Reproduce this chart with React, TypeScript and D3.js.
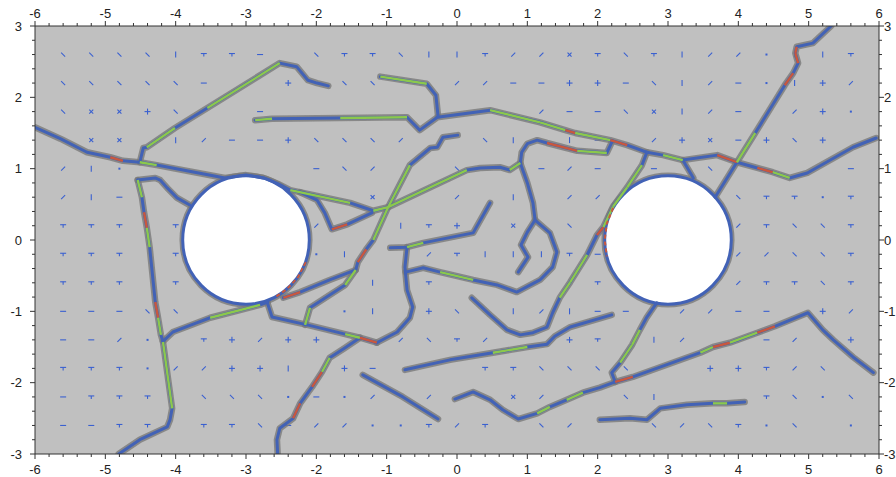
import React from "react";
import * as d3 from "d3";

type P = [number, number];

// axis labels
const xTicks = [-6, -5, -4, -3, -2, -1, 0, 1, 2, 3, 4, 5, 6];
const yTicks = [-3, -2, -1, 0, 1, 2, 3];

// the two holes
const holeCenters: P[] = [[-3, 0], [3, 0]];
const holeRadius = 0.9;

// fracture traces, each with a per-segment state code (b = closed, g = open, r = sheared)
const fA: P[] = [[-6.0, 1.58], [-5.64, 1.42], [-5.26, 1.23], [-4.93, 1.16], [-4.75, 1.11], [-4.51, 1.09], [-4.27, 1.05], [-3.3, 0.87], [-3.0, 0.91], [-2.75, 0.87], [-2.55, 0.79], [-2.37, 0.7], [-1.52, 0.52], [-1.19, 0.41], [-0.98, 0.46], [0.14, 0.98], [0.33, 1.01], [0.61, 1.02], [0.75, 0.98], [0.9, 1.08], [0.92, 1.23], [1.0, 1.35], [1.14, 1.4], [1.28, 1.36], [1.71, 1.25], [2.13, 1.22], [2.2, 1.37]];
const fB: P[] = [[-4.51, 1.09], [-4.46, 1.29], [-4.41, 1.3], [-4.01, 1.57], [-3.55, 1.85], [-2.52, 2.48], [-2.28, 2.43], [-2.12, 2.24], [-1.99, 2.2], [-1.83, 2.16]];
const fC: P[] = [[-4.54, 0.84], [-4.29, 0.87], [-4.22, 0.84], [-4.12, 0.73], [-3.98, 0.59], [-3.8, 0.49]];
const fD: P[] = [[-4.54, 0.84], [-4.48, 0.6], [-4.45, 0.39], [-4.41, 0.17], [-4.37, -0.1], [-4.29, -0.87], [-4.25, -1.09], [-4.21, -1.33], [-4.18, -1.43], [-4.05, -2.36], [-4.08, -2.52], [-4.12, -2.62], [-4.51, -2.8], [-4.81, -3.0]];
const fE: P[] = [[-4.18, -1.42], [-4.04, -1.29], [-3.75, -1.18], [-3.51, -1.09], [-2.8, -0.91], [-2.69, -0.87]];
const fF: P[] = [[-2.7, -0.87], [-2.63, -1.08], [-2.13, -1.19], [-1.59, -1.32], [-1.38, -1.37], [-1.14, -1.44]];
const fG: P[] = [[-1.38, -1.37], [-1.59, -1.51], [-1.81, -1.65], [-1.92, -1.85], [-2.06, -2.06], [-2.23, -2.29], [-2.33, -2.5], [-2.52, -2.64], [-2.56, -2.8], [-2.55, -3.0]];
const fH: P[] = [[-1.14, -1.44], [-0.85, -1.29], [-0.67, -1.09], [-0.63, -0.94], [-0.71, -0.7], [-0.74, -0.38], [-0.71, -0.1]];
const fI: P[] = [[-0.95, -0.11], [-0.71, -0.1], [-0.48, -0.04], [0.23, 0.1], [0.47, 0.52]];
const fJ: P[] = [[0.9, 1.08], [1.0, 0.8], [1.08, 0.52], [1.11, 0.28], [1.32, 0.1], [1.42, -0.17], [1.36, -0.38], [1.18, -0.56], [0.85, -0.73], [0.57, -0.63], [0.23, -0.56], [-0.24, -0.45], [-0.48, -0.39], [-0.73, -0.45]];
const fK: P[] = [[1.11, 0.28], [1.0, 0.11], [0.91, -0.07], [1.01, -0.24], [0.87, -0.45]];
const fL: P[] = [[-2.23, 0.67], [-1.99, 0.56], [-1.88, 0.38], [-1.78, 0.15], [-1.56, 0.22], [-1.21, 0.38]];
const fM: P[] = [[-2.16, -1.19], [-2.09, -0.95], [-1.59, -0.63], [-1.44, -0.42], [-1.41, -0.31], [-1.29, -0.13], [-1.19, 0.0], [-0.98, 0.46], [-0.67, 1.05], [-0.38, 1.29], [-0.28, 1.3], [-0.2, 1.44], [0.01, 1.47]];
const fN: P[] = [[-2.47, -0.81], [-2.23, -0.73], [-1.81, -0.56], [-1.44, -0.42]];
const fO: P[] = [[-2.87, 1.68], [-2.63, 1.7], [-1.66, 1.71], [-0.71, 1.72], [-0.53, 1.54], [-0.28, 1.72], [0.47, 1.82], [1.18, 1.65], [1.54, 1.54], [1.68, 1.5], [2.18, 1.4], [2.42, 1.33], [2.7, 1.23], [2.93, 1.19], [3.21, 1.12], [3.7, 1.19], [3.98, 1.09], [4.27, 1.01], [4.49, 0.95], [4.73, 0.87], [4.98, 0.94], [5.63, 1.3], [5.96, 1.43]];
const fP: P[] = [[-1.09, 2.29], [-0.43, 2.19], [-0.3, 2.03], [-0.27, 1.74]];
const fQ: P[] = [[2.7, 1.23], [2.63, 1.05], [2.42, 0.74], [2.22, 0.47], [2.08, 0.18], [1.99, 0.07], [1.85, -0.21], [1.61, -0.59], [1.46, -0.81], [1.36, -1.02], [1.28, -1.22], [1.08, -1.3], [0.9, -1.33], [0.71, -1.26], [0.47, -1.05], [0.21, -0.81]];
const fR: P[] = [[3.21, 1.12], [3.36, 0.87]];
const fS: P[] = [[5.32, 3.0], [5.06, 2.76], [4.83, 2.71], [4.81, 2.62], [4.85, 2.48], [4.78, 2.34], [4.66, 2.17], [4.24, 1.5], [3.98, 1.09], [3.67, 0.6]];
const fT: P[] = [[-0.74, -1.82], [-0.1, -1.68], [0.51, -1.58], [1.0, -1.5], [1.28, -1.46], [1.39, -1.35], [1.61, -1.22], [2.2, -1.05]];
const fU: P[] = [[-1.34, -1.89], [-0.77, -2.2], [-0.27, -2.51]];
const fV: P[] = [[-0.03, -2.23], [0.23, -2.13], [0.47, -2.24], [0.65, -2.38], [0.87, -2.51], [1.14, -2.43], [1.32, -2.34], [1.56, -2.24], [1.79, -2.14], [2.03, -2.07], [2.25, -1.99], [2.5, -1.92], [3.46, -1.58], [3.64, -1.5], [3.88, -1.44], [4.27, -1.3], [4.52, -1.21], [4.99, -1.02], [5.2, -1.26], [5.35, -1.4], [5.63, -1.64], [5.92, -1.86]];
const fW: P[] = [[2.84, -0.88], [2.7, -1.08], [2.6, -1.26], [2.49, -1.47], [2.32, -1.72], [2.2, -1.86], [2.25, -1.99]];
const fX: P[] = [[2.03, -2.52], [2.46, -2.5], [2.7, -2.52], [2.89, -2.36], [3.27, -2.31], [3.64, -2.29], [3.84, -2.29], [4.09, -2.27]];

const fractures: [P[], string][] = [
  [fA, "bbbrbgbbbbbgbggbbbgbbbbrgb"],
  [fB, "bbgbgbbbb"],
  [fC, "bbbbb"],
  [fD, "gbrgbrgbgbbbb"],
  [fE, "bbbgb"],
  [fF, "bbbgr"],
  [fG, "bbgrbrbbb"],
  [fH, "bbbbbb"],
  [fI, "bgbb"],
  [fJ, "bbbbbbbbbbgbb"],
  [fK, "bbbb"],
  [fL, "bbbrb"],
  [fM, "gbgbrbggbbbb"],
  [fN, "rbb"],
  [fO, "gbgbbbggrgrbbgbrbrgbbb"],
  [fP, "gbb"],
  [fQ, "bgggrbggbbbbbbb"],
  [fR, "b"],
  [fS, "bbrrbrbgb"],
  [fT, "bbgbbbb"],
  [fU, "bb"],
  [fV, "bbbbbgbgbbrbgrgrbbbbb"],
  [fW, "bbggbb"],
  [fX, "bbbbbgb"],
];

// sheared patches on the hole walls
const wallMarks: P[][] = [
  [[-2.15, -0.31], [-2.26, -0.52], [-2.42, -0.69], [-2.58, -0.8]],
  [[2.22, 0.45], [2.13, 0.23], [2.1, 0.0], [2.13, -0.23]],
];

// flow glyphs on a 0.4 grid, rows from y = 3 down to y = -3
const glyphRows = [
  "                               ",
  " bbbb|tt- bttb||tssxtbt|ss.||t ",
  " bbbbb-  + bb  ss--++-b|s-.|+s ",
  " bxx+b  -         s--bx|s- s+. ",
  "  xx |s--+bbbs  b| |- s+x-+b+  ",
  " s|.      -bs  b  -s- - b    - ",
  " s|-      t x  s | ss    btt.t ",
  " ttt t    s  |t+ x b     stbbt ",
  " ttt t    .|  st|||t-    ssbbt ",
  " ttt t      | t     t    sttbt ",
  " ---bb     .| +b |s|-- ss-- +s ",
  " --s. t+s++  sbts  +t |s  -s + ",
  " ttt.ss++| +-   ttbbbb  ++tsb  ",
  " -ttt bbb.-.s s  xs  b|   tb.b ",
  " --tt ttb-ss..tst bs  bsbt.b . ",
  "                               ",
];

const W = 896;
const H = 477;
const stateColor: Record<string, string> = { b: "#4262b6", g: "#8cc84c", r: "#c8583e" };
const glyphBlue = "#3a60d0";

function glyph(ch: string, cx: number, cy: number, k: string) {
  const st = { stroke: glyphBlue, strokeWidth: 1.1 };
  switch (ch) {
    case "-":
      return <line key={k} x1={cx - 3} y1={cy} x2={cx + 3} y2={cy} {...st} />;
    case "|":
      return <line key={k} x1={cx} y1={cy - 3} x2={cx} y2={cy + 3} {...st} />;
    case "+":
      return (
        <g key={k}>
          <line x1={cx - 3} y1={cy} x2={cx + 3} y2={cy} {...st} />
          <line x1={cx} y1={cy - 3} x2={cx} y2={cy + 3} {...st} />
        </g>
      );
    case "t":
      return (
        <g key={k}>
          <line x1={cx - 3} y1={cy - 1} x2={cx + 3} y2={cy - 1} {...st} />
          <line x1={cx} y1={cy - 1} x2={cx} y2={cy + 2} {...st} />
        </g>
      );
    case "b":
      return <line key={k} x1={cx - 2} y1={cy - 2} x2={cx + 2} y2={cy + 2} {...st} />;
    case "s":
      return <line key={k} x1={cx - 2} y1={cy + 2} x2={cx + 2} y2={cy - 2} {...st} />;
    case "x":
      return (
        <g key={k}>
          <line x1={cx - 2} y1={cy - 2} x2={cx + 2} y2={cy + 2} {...st} />
          <line x1={cx - 2} y1={cy + 2} x2={cx + 2} y2={cy - 2} {...st} />
        </g>
      );
    case ".":
      return <rect key={k} x={cx - 1} y={cy - 1} width={2} height={2} fill={glyphBlue} />;
    default:
      return null;
  }
}

export default function App() {
  const x = d3.scaleLinear().domain([-6, 6]).range([35, 879]);
  const y = d3.scaleLinear().domain([-3, 3]).range([454, 26]);
  const line = d3.line<P>().x((d) => x(d[0])).y((d) => y(d[1]));

  const x0 = x(-6), x1 = x(6), y0 = y(3), y1 = y(-3);
  const xMinor = d3.range(-6, 6.0001, 0.2);
  const yMinor = d3.range(-3, 3.0001, 0.2);
  const isMajor = (v: number) => Math.abs(v - Math.round(v)) < 1e-6;
  const rx = x(holeRadius) - x(0);
  const ry = y(0) - y(holeRadius);
  const font = { fontFamily: "'Liberation Sans', Arial, sans-serif", fontSize: 13, fill: "#222" };

  return (
    <svg width={W} height={H} style={{ position: "absolute", left: 0, top: 0, background: "#fff" }}>
      <defs>
        <clipPath id="plot">
          <rect x={x0} y={y0} width={x1 - x0} height={y1 - y0} />
        </clipPath>
        <filter id="soft" x="-5%" y="-5%" width="110%" height="110%">
          <feGaussianBlur stdDeviation="0.7" />
        </filter>
      </defs>
      <rect x={x0} y={y0} width={x1 - x0} height={y1 - y0} fill="#c0c0c0" />

      <g clipPath="url(#plot)">
        {glyphRows.map((row, r) =>
          row.split("").map((ch, c) => glyph(ch, x(-6 + 0.4 * c), y(3 - 0.4 * r), `g${r}-${c}`))
        )}

        <g filter="url(#soft)">
          {holeCenters.map((h, i) => (
            <ellipse key={`hs${i}`} cx={x(h[0])} cy={y(h[1])} rx={rx} ry={ry} fill="none" stroke="#7a7a7a" strokeWidth={6.5} strokeOpacity={0.8} />
          ))}
          {fractures.map(([pts], i) => (
            <path key={`s${i}`} d={line(pts) || ""} fill="none" stroke="#7a7a7a" strokeOpacity={0.8} strokeWidth={6.5} strokeLinejoin="round" strokeLinecap="round" />
          ))}
        </g>
        {holeCenters.map((h, i) => (
          <ellipse key={`h${i}`} cx={x(h[0])} cy={y(h[1])} rx={rx} ry={ry} fill="#fff" stroke="#4262b6" strokeWidth={3} />
        ))}
        {fractures.map(([pts], i) => (
          <path key={`l${i}`} d={line(pts) || ""} fill="none" stroke={stateColor.b} strokeWidth={3} strokeLinejoin="round" strokeLinecap="round" />
        ))}
        {fractures.map(([pts, codes], i) =>
          pts.slice(1).map((p, j) =>
            codes[j] && codes[j] !== "b" ? (
              <line key={`c${i}-${j}`} x1={x(pts[j][0])} y1={y(pts[j][1])} x2={x(p[0])} y2={y(p[1])} stroke={stateColor[codes[j]]} strokeWidth={2.4} strokeLinecap="butt" />
            ) : null
          )
        )}
        {wallMarks.map((pts, i) => (
          <path key={`w${i}`} d={line(pts) || ""} fill="none" stroke={stateColor.r} strokeWidth={2} strokeDasharray="4 3" />
        ))}
      </g>

      {/* frame */}
      <line x1={x0} y1={y0} x2={x1} y2={y0} stroke="#333" />
      <line x1={x0} y1={y1} x2={x1} y2={y1} stroke="#333" />
      <line x1={x0} y1={y0} x2={x0} y2={y1} stroke="#333" />
      <line x1={x1} y1={y0} x2={x1} y2={y1} stroke="#333" />

      {xMinor.map((v, i) => {
        const len = isMajor(v) ? 5 : 3;
        return (
          <g key={`xt${i}`} stroke="#333">
            <line x1={x(v)} y1={y0} x2={x(v)} y2={y0 - len} />
            <line x1={x(v)} y1={y1} x2={x(v)} y2={y1 + len} />
          </g>
        );
      })}
      {yMinor.map((v, i) => {
        const len = isMajor(v) ? 5 : 3;
        return (
          <g key={`yt${i}`} stroke="#333">
            <line x1={x0} y1={y(v)} x2={x0 - len} y2={y(v)} />
            <line x1={x1} y1={y(v)} x2={x1 + len} y2={y(v)} />
          </g>
        );
      })}

      {xTicks.map((v) => (
        <g key={`xl${v}`}>
          <text x={x(v)} y={18} textAnchor="middle" {...font}>{v}</text>
          <text x={x(v)} y={474} textAnchor="middle" {...font}>{v}</text>
        </g>
      ))}
      {yTicks.map((v) => (
        <g key={`yl${v}`}>
          <text x={22} y={y(v) + 4.5} textAnchor="end" {...font}>{v}</text>
          <text x={884} y={y(v) + 4.5} textAnchor="start" {...font}>{v}</text>
        </g>
      ))}
    </svg>
  );
}
